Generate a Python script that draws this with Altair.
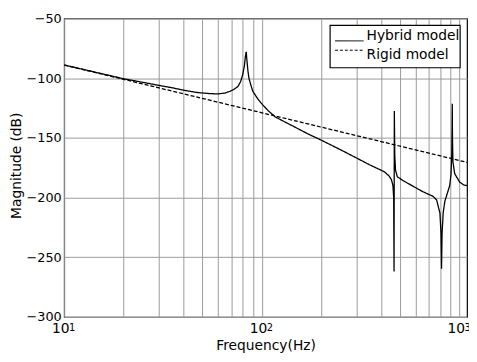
import altair as alt
import pandas as pd

# Hybrid model (frequency in Hz, magnitude in dB)
hyb_f = [10, 13, 16, 20, 25, 30, 35, 40, 47, 55, 60, 65, 69, 72, 75.6, 78, 80, 81.5, 82.5, 83.3,
         84, 85, 86, 88, 90, 95, 100.5, 108, 117, 130, 147, 170, 200, 250, 298, 350, 417, 440,
         452, 460, 464, 466, 467.5, 470, 474, 484, 520, 585, 650, 734, 765, 795, 805, 810, 815,
         826, 842, 857, 891, 905, 912, 916, 918, 920, 925, 944, 1000, 1050, 1090]
hyb_db = [-89, -93.3, -96.8, -100.5, -103.5, -106, -108, -110, -112, -113, -113.2, -112.5, -111,
          -109.5, -107, -103, -97, -90, -82, -78, -85, -94, -100, -106, -111, -117, -122, -127.5,
          -132.5, -136.5, -141, -146.5, -152, -160, -166.5, -172.5, -178.5, -182, -185, -190, -200,
          -262, -127.6, -165, -177, -182.6, -186, -190.8, -195, -199, -202, -213, -230, -259.6,
          -230, -212.6, -203, -199, -190, -180, -165, -140, -121.5, -150, -170, -180, -187,
          -189.5, -190]

# Rigid model
rig_f = [10, 20, 100, 1000, 1090]
rig_db = [-89, -101, -129, -169, -170.5]

series_names = ["Hybrid model", "Rigid model"]
grid_x = [10, 20, 30, 40, 50, 60, 70, 80, 90, 100, 200, 300, 400, 500, 600, 700, 800, 900, 1000]
decade_f = [10, 100, 1000]
decade_exp = ["1", "2", "3"]
y_ticks = [-300, -250, -200, -150, -100, -50]

df = pd.concat([
    pd.DataFrame({"f": hyb_f, "db": hyb_db, "series": series_names[0], "i": range(len(hyb_f))}),
    pd.DataFrame({"f": rig_f, "db": rig_db, "series": series_names[1], "i": range(len(rig_f))}),
])
exp_df = pd.DataFrame({"f": decade_f, "e": decade_exp})
leg_df = pd.DataFrame({"series": series_names})

FONT = "DejaVu Sans"
GRID = "#9a9a9a"

x_scale = alt.Scale(type="log", domain=[10, 1090], nice=False)
y_scale = alt.Scale(domain=[-300, -50], nice=False)

x_axis = alt.Axis(
    values=grid_x, grid=True, gridColor=GRID, gridOpacity=1, gridWidth=1,
    ticks=False, tickSize=0, domain=False,
    labelExpr="(datum.value == 10 || datum.value == 100 || datum.value == 1000) ? '10' : ''",
    labelFlush=False, labelOverlap=False, labelPadding=5, labelOffset=-4,
    labelBaseline="top", labelFont=FONT, labelFontSize=14, labelColor="black",
    title="Frequency(Hz)", titleFont=FONT, titleFontSize=14, titleFontWeight="normal",
    titleColor="black", titleY=33, titleBaseline="alphabetic")

y_axis = alt.Axis(
    values=y_ticks, grid=True, gridColor=GRID, gridOpacity=1, gridWidth=1,
    ticks=False, tickSize=0, domain=False, labelPadding=3,
    labelFont=FONT, labelFontSize=13, labelColor="black",
    title="Magnitude (dB)", titleFont=FONT, titleFontSize=14, titleFontWeight="normal",
    titleColor="black", titleAngle=270, titleX=-48, titleY=149,
    titleBaseline="middle", titleAlign="center")

lines = alt.Chart(df).mark_line(color="black", strokeWidth=1.3, clip=True).encode(
    x=alt.X("f:Q", scale=x_scale, axis=x_axis),
    y=alt.Y("db:Q", scale=y_scale, axis=y_axis),
    strokeDash=alt.StrokeDash("series:N",
        scale=alt.Scale(domain=series_names, range=[[1, 0], [4, 2]]), legend=None),
    order="i:Q",
)

exps = alt.Chart(exp_df).mark_text(align="left", baseline="alphabetic", dx=5, fontSize=10,
                                   font=FONT, color="black").encode(
    x=alt.X("f:Q", scale=x_scale, axis=x_axis),
    y=alt.value(317),
    text="e:N",
)

# legend drawn as overlay (box, line samples, labels)
leg_y = alt.Scale(domain=series_names, range=[18, 37], padding=0)

leg_box = alt.Chart(leg_df).transform_filter(alt.datum.series == series_names[0]).mark_rect(
    fill="white", stroke="black", strokeWidth=1.2).encode(
    x=alt.value(270), x2=alt.value(402), y=alt.value(7), y2=alt.value(50))

leg_rule = alt.Chart(leg_df).mark_rule(color="black", strokeWidth=1).encode(
    x=alt.value(275), x2=alt.value(304),
    y=alt.Y("series:N", scale=leg_y, axis=None),
    strokeDash=alt.StrokeDash("series:N",
        scale=alt.Scale(domain=series_names, range=[[1, 0], [3, 2]]), legend=None),
)

leg_text = alt.Chart(leg_df).mark_text(align="left", baseline="middle", font=FONT,
                                       fontSize=14, color="black").encode(
    x=alt.value(307),
    y=alt.Y("series:N", scale=leg_y, axis=None),
    text="series:N",
)

chart = alt.layer(lines, exps, leg_box, leg_rule, leg_text).resolve_scale(
    y="independent", strokeDash="independent"
).properties(
    width=409, height=303,
    padding={"left": 57, "top": 8, "right": 2, "bottom": 35},
    autosize=alt.AutoSizeParams(type="none"),
    background="white",
).configure_view(stroke="black", strokeWidth=1.2)

chart.save("out.html", embed_options={"renderer": "svg", "actions": False})
